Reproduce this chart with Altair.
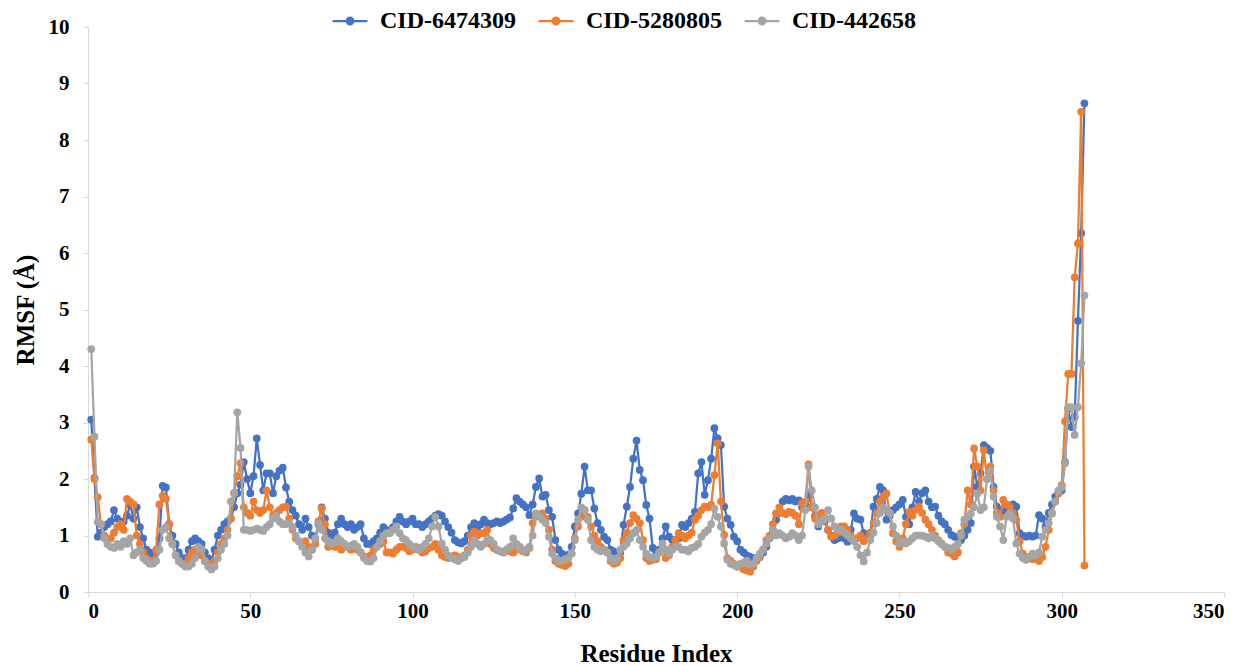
import altair as alt
import pandas as pd

series_names = ["CID-6474309", "CID-5280805", "CID-442658"]
series_colors = ["#4472C4", "#ED7D31", "#A5A5A5"]
x_ticks = [0, 50, 100, 150, 200, 250, 300, 350]
y_ticks = [0, 1, 2, 3, 4, 5, 6, 7, 8, 9, 10]

cid_6474309 = [
    3.05, 2.02, 0.98, 1.05, 1.15, 1.2, 1.25, 1.45, 1.3, 1.2,
    1.25, 1.35, 1.55, 1.3, 1.5, 1.15, 0.95, 0.75, 0.7, 0.65,
    0.7, 0.95, 1.88, 1.85, 1.2, 1.0, 0.85, 0.7, 0.6, 0.6,
    0.75, 0.9, 0.95, 0.9, 0.85, 0.7, 0.6, 0.55, 0.75, 1.0,
    1.1, 1.2, 1.25, 1.3, 1.5, 1.75, 1.9, 2.3, 2.0, 1.75,
    2.05, 2.72, 2.25, 1.8, 2.1, 2.1, 1.75, 2.05, 2.15, 2.2,
    1.85, 1.6, 1.45, 1.35, 1.2, 1.1, 1.3, 1.15, 1.0, 0.95,
    1.2, 1.5, 1.3, 1.05, 1.0, 1.05, 1.2, 1.3, 1.2, 1.15,
    1.2, 1.1, 1.15, 1.2, 0.95, 0.85, 0.85, 0.9, 0.95, 1.05,
    1.15, 1.1, 1.05, 1.15, 1.25, 1.33, 1.25, 1.2, 1.25, 1.3,
    1.2, 1.2, 1.15, 1.2, 1.25, 1.3, 1.35, 1.38, 1.35, 1.25,
    1.15, 1.05, 0.92, 0.88, 0.86, 0.9, 1.0, 1.15, 1.22, 1.15,
    1.2, 1.28, 1.22, 1.2, 1.22, 1.25, 1.22, 1.25, 1.28, 1.32,
    1.48, 1.66, 1.6, 1.55, 1.5, 1.36, 1.55, 1.86, 2.01, 1.69,
    1.72, 1.45, 1.33, 0.92, 0.75, 0.68, 0.62, 0.66, 0.8, 1.16,
    1.39, 1.74, 2.22, 1.8, 1.8, 1.48, 1.22, 1.1, 0.98, 0.92,
    0.75, 0.72, 0.68, 0.7, 1.19, 1.51, 1.86, 2.36, 2.68, 2.16,
    1.98, 1.54, 1.3, 0.78, 0.72, 0.75, 0.95, 1.16, 0.98, 0.92,
    0.92, 0.95, 1.19, 1.15, 1.22, 1.3, 1.42, 2.1, 2.3, 1.72,
    1.98, 2.36, 2.9, 2.72, 2.6, 1.51, 1.3, 1.19, 0.98, 0.9,
    0.75, 0.7, 0.65, 0.62, 0.6, 0.6, 0.62, 0.7, 0.8, 0.95,
    1.1, 1.28, 1.4, 1.6, 1.65, 1.62, 1.65, 1.6, 1.62, 1.5,
    1.55, 1.74, 1.5, 1.35, 1.16, 1.33, 1.25, 1.1, 1.0, 0.92,
    0.95, 1.0, 0.95, 0.89, 1.1, 1.39, 1.3, 1.28, 1.04, 0.95,
    1.0, 1.51, 1.65, 1.86, 1.8, 1.28, 1.35, 1.45, 1.5, 1.55,
    1.63, 1.33, 1.2, 1.5, 1.77, 1.6, 1.75, 1.8, 1.6, 1.5,
    1.51, 1.35, 1.25, 1.2, 1.1, 1.01, 0.98, 0.95, 0.92, 1.0,
    1.1, 1.22, 2.22, 1.86, 2.1, 2.6, 2.55, 2.5, 1.86, 1.51,
    1.45, 1.4, 1.45, 1.5, 1.55, 1.51, 1.04, 1.0, 0.98, 1.0,
    0.98, 1.0, 1.36, 1.3, 1.16, 1.4, 1.55, 1.69, 1.75, 1.8,
    2.3, 3.25, 2.92, 3.1, 4.8, 6.35, 8.65,
]

cid_5280805 = [
    2.7, 2.0, 1.68, 1.2, 1.0, 0.9, 0.95, 1.05, 1.15, 1.2,
    1.1, 1.65, 1.6, 1.55, 1.0, 0.85, 0.7, 0.6, 0.55, 0.55,
    0.75, 1.55, 1.7, 1.65, 1.2, 0.85, 0.65, 0.55, 0.5, 0.5,
    0.6, 0.7, 0.75, 0.7, 0.65, 0.55, 0.5, 0.5, 0.55, 0.7,
    0.85, 0.95, 1.1, 1.3, 1.75, 2.05, 2.28, 1.5, 1.4, 1.35,
    1.6, 1.45, 1.4, 1.45, 1.8, 1.5, 1.35, 1.4, 1.45, 1.5,
    1.51, 1.3, 1.1, 0.95, 0.9, 0.85, 0.9, 0.8, 0.75, 0.85,
    1.25, 1.48, 1.2, 0.8, 0.85, 0.8, 0.8, 0.75, 0.8, 0.8,
    0.75, 0.8, 0.75, 0.7, 0.63, 0.6, 0.65, 0.75, 0.8, 0.85,
    0.9, 0.7, 0.7, 0.68, 0.75, 0.8, 0.8, 0.78, 0.72, 0.75,
    0.8, 0.75, 0.7, 0.72, 0.78, 0.8, 0.85, 0.75, 0.65, 0.62,
    0.6, 0.62, 0.65, 0.62, 0.6, 0.65, 0.75, 1.0, 1.07, 1.0,
    1.04, 1.04, 1.1, 0.85, 0.78, 0.75, 0.72, 0.7, 0.75, 0.72,
    0.7, 0.75, 0.8, 0.72, 0.7, 0.78, 1.22, 1.33, 1.36, 1.39,
    1.3, 1.1, 0.75, 0.55, 0.5, 0.48, 0.46, 0.5, 0.68, 0.95,
    1.16, 1.33, 1.45, 1.33, 1.16, 1.0, 0.9, 0.8, 0.75, 0.7,
    0.55, 0.5, 0.52, 0.6, 0.92, 1.05, 1.22, 1.36, 1.3, 1.22,
    0.92, 0.6, 0.55, 0.57, 0.58, 0.7, 0.8, 0.6, 0.65, 0.8,
    0.92, 1.04, 1.0, 0.95, 1.0, 1.05, 1.28, 1.35, 1.45, 1.51,
    1.5, 1.54, 2.07, 2.63, 1.6, 1.01, 0.6, 0.55, 0.5, 0.45,
    0.45, 0.4, 0.38, 0.36, 0.45, 0.55, 0.63, 0.75, 0.92, 1.0,
    1.2, 1.39, 1.5, 1.4, 1.38, 1.42, 1.4, 1.35, 1.2, 1.57,
    1.6, 2.26, 1.5, 1.3, 1.36, 1.4, 1.3, 1.1, 0.98, 1.0,
    1.05, 1.16, 1.16, 1.1, 1.0, 0.92, 0.95, 1.0, 0.9, 0.95,
    1.05, 1.22, 1.4, 1.6, 1.69, 1.74, 1.4, 1.04, 0.9, 0.8,
    0.95, 1.2, 1.42, 1.35, 1.45, 1.51, 1.4, 1.28, 1.2, 1.1,
    1.0, 0.92, 0.85, 0.8, 0.7, 0.68, 0.63, 0.7, 1.04, 1.2,
    1.8, 1.55, 2.54, 2.22, 1.8, 2.51, 2.0, 2.22, 1.8, 1.4,
    1.33, 1.63, 1.55, 1.51, 1.4, 1.28, 0.9, 0.68, 0.62, 0.6,
    0.58, 0.6, 0.55, 0.62, 0.8, 1.1, 1.39, 1.6, 1.75, 1.89,
    3.02, 3.86, 3.86, 5.57, 6.17, 8.5, 0.47,
]

cid_442658 = [
    4.3, 2.75, 1.24, 1.2, 0.95, 0.85, 0.8, 0.78, 0.85, 0.8,
    0.9, 0.85, 0.95, 0.65, 0.7, 0.75, 0.6, 0.55, 0.5, 0.5,
    0.55, 0.75, 1.1, 1.15, 0.95, 0.85, 0.65, 0.55, 0.5, 0.45,
    0.45, 0.5, 0.6, 0.8, 0.75, 0.55, 0.45, 0.4, 0.45, 0.6,
    0.75, 0.85, 1.0, 1.6, 1.75, 3.18, 2.55, 1.1, 1.1, 1.08,
    1.1, 1.12, 1.1, 1.08, 1.15, 1.2, 1.3, 1.35, 1.25, 1.2,
    1.2, 1.22, 1.15, 1.0, 0.9, 0.8, 0.7, 0.63, 0.75, 0.95,
    1.22, 1.1, 0.95, 0.9, 0.85, 0.88, 0.95, 0.9, 0.85, 0.8,
    0.82, 0.85, 0.8, 0.7, 0.6, 0.55, 0.54, 0.6, 0.8, 0.9,
    1.0, 1.04, 1.05, 1.1, 1.16, 1.04, 0.95, 0.92, 0.85, 0.8,
    0.78, 0.75, 0.8, 0.85, 0.95, 1.16, 1.33, 1.16, 0.86, 0.75,
    0.65, 0.6, 0.58, 0.55, 0.6, 0.62, 0.7, 0.8, 0.92, 0.85,
    0.8, 0.85, 0.92, 0.92, 0.85, 0.75, 0.72, 0.7, 0.75, 0.8,
    0.95, 0.85, 0.78, 0.72, 0.75, 0.8, 1.0, 1.39, 1.35, 1.28,
    1.22, 0.98, 0.68, 0.6, 0.55, 0.55, 0.58, 0.6, 0.68, 0.92,
    1.28, 1.5, 1.45, 1.28, 0.92, 0.8, 0.75, 0.72, 0.75, 0.7,
    0.6, 0.54, 0.6, 0.75, 0.8, 0.86, 0.95, 1.04, 1.1, 0.92,
    0.8, 0.68, 0.62, 0.6, 0.62, 0.7, 0.86, 0.75, 0.68, 0.75,
    0.8, 0.8, 0.75, 0.75, 0.72, 0.78, 0.8, 0.85, 0.98, 1.05,
    1.1, 1.2, 1.48, 1.33, 1.16, 0.86, 0.57, 0.5, 0.48, 0.45,
    0.5, 0.52, 0.55, 0.48, 0.5, 0.6, 0.68, 0.75, 0.86, 0.95,
    1.1, 1.0, 1.04, 1.0, 0.95, 0.98, 1.04, 1.0, 0.92, 1.0,
    1.45, 2.22, 1.8, 1.5, 1.2, 1.25, 1.3, 1.45, 1.3, 1.16,
    1.1, 1.1, 1.05, 1.0, 0.95, 0.9, 0.8, 0.65, 0.54, 0.7,
    0.92, 1.05, 1.22, 1.4, 1.5, 1.45, 1.4, 1.16, 1.0, 0.86,
    0.9, 0.86, 0.9, 0.95, 1.0, 1.0, 1.0, 0.98, 0.95, 1.0,
    0.95, 0.9, 0.86, 0.8, 0.78, 0.75, 0.8, 0.85, 1.0, 1.28,
    1.33, 1.39, 1.5, 1.74, 1.45, 1.5, 2.0, 2.15, 1.69, 1.33,
    1.16, 0.92, 1.33, 1.39, 1.3, 0.86, 0.68, 0.6, 0.57, 0.62,
    0.68, 0.65, 0.7, 0.98, 1.1, 1.22, 1.4, 1.6, 1.8, 1.85,
    2.28, 3.27, 3.27, 2.78, 3.27, 4.05, 5.25,
]

all_values = [cid_6474309, cid_5280805, cid_442658]

rows = []
for name, vals in zip(series_names, all_values):
    for i, v in enumerate(vals):
        rows.append({"series": name, "residue": i + 1, "rmsf": v})
df = pd.DataFrame(rows)

FONT = "Liberation Serif"

legend_symbol = (
    "M-2.9,0L2.9,0"
    "M-0.55,0A0.55,0.55,0,1,1,0.55,0A0.55,0.55,0,1,1,-0.55,0"
    "M-0.3,0A0.3,0.3,0,1,1,0.3,0A0.3,0.3,0,1,1,-0.3,0"
)

color_enc = alt.Color(
    "series:N",
    scale=alt.Scale(domain=series_names, range=series_colors),
    sort=series_names,
    legend=alt.Legend(
        orient="none",
        legendX=250,
        legendY=-18,
        direction="horizontal",
        title=None,
        symbolType=legend_symbol,
        symbolSize=144,
        symbolStrokeWidth=2.25,
        labelFont=FONT,
        labelFontSize=24,
        labelFontWeight="bold",
        labelColor="black",
        labelOffset=18,
        columnPadding=18,
        padding=0,
    ),
)

x_enc = alt.X(
    "residue:Q",
    scale=alt.Scale(domain=[0, 350], nice=False),
    axis=alt.Axis(values=x_ticks, title="Residue Index", labelPadding=3, titlePadding=20),
)
y_enc = alt.Y(
    "rmsf:Q",
    scale=alt.Scale(domain=[0, 10], nice=False),
    axis=alt.Axis(values=y_ticks, title="RMSF (Å)", labelPadding=14, titlePadding=10),
)

layers = []
for name in series_names:
    layers.append(
        alt.Chart(df)
        .transform_filter(alt.datum.series == name)
        .mark_line(
            strokeWidth=2.25,
            point=alt.OverlayMarkDef(filled=True, size=60, opacity=1),
        )
        .encode(x=x_enc, y=y_enc, color=color_enc, order="residue:Q")
    )

chart = (
    alt.layer(*layers)
    .properties(
        width=1136,
        height=565,
        autosize=alt.AutoSizeParams(type="none"),
        padding={"left": 88, "top": 27, "right": 21, "bottom": 74},
        background="white",
    )
    .configure_view(stroke="transparent")
    .configure_axis(
        grid=False,
        labelFont=FONT,
        labelFontSize=21,
        labelFontWeight="bold",
        labelColor="black",
        titleFont=FONT,
        titleFontSize=25,
        titleFontWeight="bold",
        titleColor="black",
        domainColor="#D9D9D9",
        tickColor="#D9D9D9",
        tickSize=5,
    )
)

chart.save("out.html", embed_options={"renderer": "svg", "actions": False})
